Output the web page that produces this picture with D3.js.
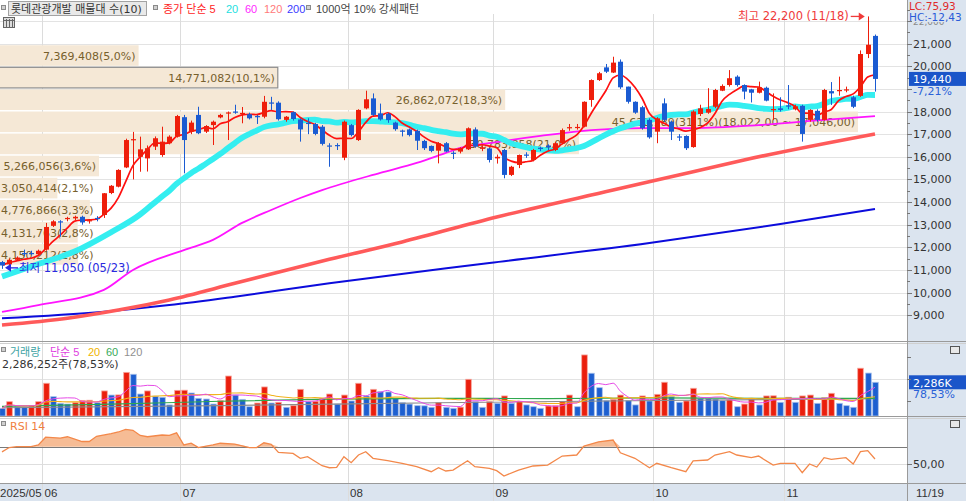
<!DOCTYPE html>
<html><head><meta charset="utf-8">
<script src="https://cdn.jsdelivr.net/npm/d3@7"></script>
<style>
body{margin:0;background:#fff;}
svg{display:block;font-family:"DejaVu Sans","Noto Sans CJK KR",sans-serif;}
</style>
</head><body>
<svg id="c" width="966" height="501"></svg>
<script>
// ---------------- DATA ----------------
const stockName = "롯데관광개발";
const openP  = [11350,11250,11450,11750,11750,11700,11900,12950,13150,13250,13280,13350,13150,13300,13430,14400,14680,15530,16750,16000,15930,16450,16080,16600,16890,17750,17110,17850,17110,17400,17740,17930,18000,17900,17880,17800,17770,18400,18390,17630,17970,17650,17500,17450,17330,16500,16520,15960,17400,16740,18140,18580,17920,17900,17510,17160,17210,17150,16700,16480,16270,16600,16180,16230,16330,17210,16350,16370,15930,16300,15200,15640,16100,15860,16400,16500,16300,16600,17280,17290,17330,18510,19390,19950,19720,20200,19100,18430,18190,17630,17110,18360,17550,16900,16920,16430,17890,17950,18210,18920,19170,19540,19170,18980,18830,19050,18080,18140,18270,18100,18250,17630,18030,17630,18900,18920,18950,18630,18690,20540,21340];
const highP  = [11400,11500,11600,11900,11850,11900,13080,13200,13200,13350,13400,13400,13250,13380,14400,14750,15450,16800,17100,16890,16500,16900,17330,16950,17850,17850,17600,18210,17400,17600,17900,18000,18300,18200,17950,17850,18690,18650,18450,17800,18000,17700,17700,17500,17400,16600,16600,17600,17450,18100,18920,18800,18350,17950,17550,17200,17250,17200,16750,16500,16650,16650,16250,16420,17300,17300,16500,16400,16100,16350,15600,16100,16200,16350,16450,16550,16650,17250,17450,17450,18450,19420,19750,20100,20420,20300,19100,18450,18250,17700,17750,18580,17600,17000,16950,18050,18300,19030,19000,19200,19830,19600,19200,19000,19320,19100,18800,18630,19170,18300,18300,18100,18100,19000,19300,19540,19100,18700,20700,22200,21400];
const lowP   = [11050,11200,11400,11600,11650,11650,11850,12900,12470,13150,13200,13000,13050,13150,13300,14350,14650,15500,15000,15340,15350,16300,16000,16550,16850,15270,17000,17000,17050,16520,17700,16740,17900,17480,17650,17450,17700,18070,17600,17550,17600,16670,17000,16950,16500,15560,16300,15850,16900,16700,18100,17800,17600,17500,17150,16900,16900,16300,16300,16200,15710,16200,15900,16150,16300,16400,16250,15750,15700,15050,15150,15500,15950,15800,16250,16300,16250,16550,17150,17200,17300,18210,19350,19700,19700,19000,18350,17900,17200,16800,16600,17550,16740,16700,16300,16400,17800,17900,18150,18900,19100,19100,18540,18400,18800,18450,17630,18000,18100,18050,16670,17550,17550,17600,18290,18700,18850,18150,18650,20360,18880];
const closeP = [11200,11450,11550,11700,11700,11850,12900,13150,13100,13300,13350,13100,13200,13250,14390,14720,15420,16740,16780,16330,16380,16820,16670,16890,17800,16740,17510,17040,17360,17550,17850,17960,17950,17940,17700,17770,18430,18360,17660,17770,17670,17210,17480,17010,16570,16480,16480,17550,16960,18070,18540,17850,17650,17620,17220,17120,16960,16710,16380,16260,16600,16230,16150,16380,17260,16450,16420,15860,16000,15200,15560,16080,16060,16300,16360,16420,16600,17180,17310,17320,18430,19390,19690,19760,20160,19070,18430,17950,17260,16860,17700,17630,17110,16860,16380,18000,18140,18110,18950,19130,19470,19170,18880,18830,19070,18480,18110,18070,18240,18230,17010,18070,17630,18950,18800,18950,18980,18210,20540,20950,19440];
// volume in thousand shares
const volumeK = [520,970,630,620,700,970,2220,1310,860,810,900,1060,1070,900,1700,1420,1430,2960,2830,1490,1700,1340,1270,750,1740,1750,1560,1200,1150,810,1040,2710,1420,1130,630,880,1970,880,930,590,700,1810,970,1000,1200,1490,810,1420,1020,2220,1360,1810,1650,1630,1200,900,810,700,690,590,900,590,520,600,2490,970,590,970,860,1360,860,970,750,630,520,680,700,970,1420,630,4140,2900,1920,1040,1130,1420,1040,750,1360,1020,1470,2290,1310,930,1020,1880,1200,1180,1150,1040,1090,630,810,1150,750,1360,1370,930,1270,930,1360,1420,860,1240,1540,860,700,590,3240,2911,2286];
const lastVolume = 2286252;
const lastVolumePct = "78,53";
const lastChangePct = "-7,21";
const LC = "75,93", HC = "-12,43";

// moving averages (need history before the window): [index, value]
const ma20Early = [[0,10710],[5,11260],[10,11820],[15,12670]];
const ma60Pts  = [[0,9150],[5,9450],[14,10120],[18,11000],[25,11880],[29,12330],[33,13080],[37,13650],[41,14180],[44,14530],[52,15290],[57,15730],[61,16170],[63,16390],[68,16650],[74,16920],[81,17180],[88,17270],[95,17270],[104,17400],[113,17630],[120,17800]];
const ma120Pts = [[0,8570],[9,8870],[16,9230],[23,9680],[32,10410],[45,11470],[55,12240],[68,13340],[84,14530],[95,15340],[102,15860],[120,17010]];
const ma200Pts = [[0,8870],[14,9160],[23,9450],[32,9820],[45,10410],[67,11310],[89,12190],[107,13030],[120,13690]];
const vma60Pts  = [[0,650],[15,800],[30,1000],[45,1150],[60,1200],[75,1180],[90,1230],[105,1200],[120,1200]];
const vma120Pts = [[0,560],[30,700],[60,900],[90,1050],[120,1180]];
const rsiPts = [[0,64],[1,69],[2,70],[4,70],[5,72],[6,81],[8,80],[9,81.5],[11,76],[12,76],[13,82],[15,85],[16,87],[17,90],[18,89],[19,83],[20,81.5],[22,83.5],[23,83],[24,86],[25,72],[26,74],[27,69],[29,72],[30,74],[32,73],[34,69],[35,69],[36,74.5],[37,72.7],[38,63.5],[40,62.3],[41,56.6],[42,58.4],[44,48],[45,45.7],[46,46.2],[47,58.4],[48,51.5],[49,60.4],[50,64.2],[51,56.6],[53,53.8],[55,50.8],[57,46.9],[59,41.1],[60,45.7],[61,41.9],[62,43],[64,53.8],[65,46.9],[67,45],[68,42.3],[69,36.1],[71,43],[73,47.7],[75,48.8],[77,59.2],[79,60.4],[80,70.8],[82,75.7],[84,77.7],[85,63],[87,56.6],[89,45.7],[90,50.8],[92,45.7],[94,41.1],[95,53.5],[97,54.6],[98,60.4],[100,64.2],[101,60.4],[103,57.3],[104,59.2],[106,48.8],[107,50.8],[109,50.8],[110,40],[111,50],[112,46.5],[113,57.3],[114,55.4],[116,57.3],[117,50],[118,64.2],[119,65.4],[120,55.8]];

// volume profile (매물대): price edges (top->bottom), volumes, percent labels
const bandEdges = [20950,19974,18998,18022,17046,16070,15094,14118,13142,12166,11190];
const bandVolumes = [7369408,14771082,26862072,45622189,30783858,5266056,3050414,4776866,4131763,4150212];
const bandPct = ["5,0","10,1","18,3","31,1","21,0","3,6","2,1","3,3","2,8","2,8"];

const monthIdx = [6,25,48,68,90,108];
const monthLabels = ["06","07","08","09","10","11"];
const firstLabel = "2025/05", lastLabel = "11/19";
const priceTicks = [9000,10000,11000,12000,13000,14000,15000,16000,17000,18000,20000,21000,22000];
const highDate = "11/18", lowDate = "05/23";

// ---------------- DRAW ----------------
const RED="#ee1e0b", BLUE="#1a5bd2", PR=907;
const NARROW='"Liberation Sans","Noto Sans CJK KR",sans-serif';
const svg=d3.select("#c");
const n=closeP.length;
const x=d3.scaleBand().domain(d3.range(n)).range([-1.64,-1.64+n*7.275]);
const cx=i=>x(i)+x.bandwidth()/2;
const y=d3.scaleLinear().domain([11000,21000]).range([270,43.6]);
const yv=d3.scaleLinear().domain([0,4950]).range([416,343]);
const yr=d3.scaleLinear().domain([50,70]).range([464,446.7]);
const fmt=d3.format(",");

const defs=svg.append("defs");
defs.append("clipPath").attr("id","cp").append("rect").attr("x",0).attr("y",0).attr("width",PR).attr("height",341);
defs.append("clipPath").attr("id","cv").append("rect").attr("x",0).attr("y",343).attr("width",PR).attr("height",73.5);
defs.append("clipPath").attr("id","cr").append("rect").attr("x",0).attr("y",418).attr("width",PR).attr("height",65);
defs.append("clipPath").attr("id","ct").append("rect").attr("x",PR).attr("y",22).attr("width",60).attr("height",400);

// backgrounds
svg.append("rect").attr("x",0).attr("y",0).attr("width",966).attr("height",501).attr("fill","#fff");
svg.append("rect").attr("x",PR).attr("y",0).attr("width",966-PR).attr("height",501).attr("fill","#dbe4ef");
svg.append("rect").attr("x",0).attr("y",484).attr("width",PR).attr("height",17).attr("fill","#dbe4ef");

// grids
const grid=svg.append("g");
grid.selectAll(".hp").data(d3.range(9000,23000,1000)).join("line")
  .attr("x1",0).attr("x2",PR).attr("y1",d=>Math.round(y(d))+0.5).attr("y2",d=>Math.round(y(d))+0.5)
  .attr("stroke","#e3e3e3");
grid.append("line").attr("x1",0).attr("x2",PR).attr("y1",Math.round(yv(2500))+0.5).attr("y2",Math.round(yv(2500))+0.5).attr("stroke","#e3e3e3");
grid.append("line").attr("x1",0).attr("x2",PR).attr("y1",464.5).attr("y2",464.5).attr("stroke","#dedede");
grid.selectAll(".vm").data(monthIdx).join("line")
  .attr("x1",d=>Math.round(x(d))+0.5).attr("x2",d=>Math.round(x(d))+0.5).attr("y1",14).attr("y2",501)
  .attr("stroke","#dcdcdc");

// ---- price pane
const price=svg.append("g").attr("clip-path","url(#cp)");
const maxBand=d3.max(bandVolumes);
const bw=d3.scaleLinear().domain([0,maxBand]).range([0,858]);
const curIdx=bandEdges.findIndex((e,i)=>i<bandVolumes.length && closeP[n-1]<=e && closeP[n-1]>bandEdges[i+1]);
const bands=price.append("g");
bandVolumes.forEach((v,i)=>{
  const y0=y(bandEdges[i]), y1=y(bandEdges[i+1]);
  bands.append("rect").attr("x",-1).attr("y",y0+0.5).attr("width",bw(v)+1).attr("height",y1-y0-1.5)
    .attr("fill","#f5e8d6")
    .attr("stroke",i===curIdx?"#8e8e8e":"none").attr("stroke-width",1.2);
});
bandVolumes.forEach((v,i)=>{
  const y0=y(bandEdges[i]), y1=y(bandEdges[i+1]);
  let s=fmt(v)+"("+bandPct[i]+"%)";
  if(v===maxBand) s+="("+fmt(bandEdges[i])+",00 ~ "+fmt(bandEdges[i+1])+",00)";
  const t=bands.append("text").text(s).attr("y",(y0+y1)/2+4).attr("font-size",11).attr("fill","#77602c");
  const w=t.node().getComputedTextLength();
  t.attr("x",Math.max(1,bw(v)-3-w));
});

// MAs
const lineGen=d3.line().x(d=>cx(d[0])).y(d=>y(d[1])).curve(d3.curveMonotoneX);
const ma=(arr,k,i)=>{const s=arr.slice(Math.max(0,i-k+1),i+1);return d3.mean(s);};
const ma5=d3.range(n).map(i=>[i,ma(closeP,5,i)]);
const ma20=ma20Early.concat(d3.range(19,n).map(i=>[i,ma(closeP,20,i)]));
price.append("path").attr("d",lineGen(ma200Pts)).attr("fill","none").attr("stroke","#0c0cdc").attr("stroke-width",2);
price.append("path").attr("d",lineGen(ma120Pts)).attr("fill","none").attr("stroke","#ff5a5a").attr("stroke-width",3.6);
price.append("path").attr("d",lineGen(ma60Pts)).attr("fill","none").attr("stroke","#ff14ff").attr("stroke-width",1.8);
price.append("path").attr("d",lineGen(ma20)).attr("fill","none").attr("stroke","#34eef0").attr("stroke-width",5.8);
price.append("path").attr("d",lineGen(ma5)).attr("fill","none").attr("stroke","#ff1010").attr("stroke-width",1.7);

// candles
const cg=price.append("g");
const idx=d3.range(n);
cg.selectAll(".w").data(idx).join("line")
  .attr("x1",i=>Math.round(cx(i))+0.5).attr("x2",i=>Math.round(cx(i))+0.5)
  .attr("y1",i=>y(highP[i])).attr("y2",i=>y(lowP[i]))
  .attr("stroke",i=>closeP[i]>=openP[i]?RED:BLUE).attr("stroke-width",1);
cg.selectAll(".b").data(idx).join("rect")
  .attr("x",i=>Math.round(cx(i))-2).attr("width",5)
  .attr("y",i=>y(Math.max(openP[i],closeP[i])))
  .attr("height",i=>Math.max(1.2,y(Math.min(openP[i],closeP[i]))-y(Math.max(openP[i],closeP[i]))))
  .attr("fill",i=>closeP[i]>=openP[i]?RED:BLUE);

// annotations high / low
const iHi=d3.maxIndex(highP), iLo=d3.minIndex(lowP);
const ann=svg.append("g").attr("font-size",11.5);
const hy=y(highP[iHi]);
ann.append("text").attr("x",cx(iHi)-19).attr("y",hy+4).attr("text-anchor","end").attr("fill","#f03a3a")
  .text("최고 "+fmt(highP[iHi])+" ("+highDate+")");
ann.append("line").attr("x1",cx(iHi)-17).attr("x2",cx(iHi)-8).attr("y1",hy).attr("y2",hy).attr("stroke","#f03a3a").attr("stroke-width",1.3);
ann.append("path").attr("d",`M${cx(iHi)-9},${hy-4}L${cx(iHi)-3},${hy}L${cx(iHi)-9},${hy+4}Z`).attr("fill","#f03a3a");
const ly=y(lowP[iLo])-1;
ann.append("path").attr("d",`M${cx(iLo)+3},${ly}L${cx(iLo)+9},${ly-4}L${cx(iLo)+9},${ly+4}Z`).attr("fill","#2a2ae0");
ann.append("line").attr("x1",cx(iLo)+8).attr("x2",cx(iLo)+16).attr("y1",ly).attr("y2",ly).attr("stroke","#2a2ae0").attr("stroke-width",1.3);
ann.append("text").attr("x",cx(iLo)+17).attr("y",ly+4).attr("fill","#2a2ae0")
  .text("최저 "+fmt(lowP[iLo])+" ("+lowDate+")");

// ---- volume pane
const vol=svg.append("g").attr("clip-path","url(#cv)");
const vUp=i=>i===0?closeP[0]>=openP[0]:volumeK[i]>=volumeK[i-1];
vol.selectAll(".vb").data(idx).join("rect")
  .attr("x",i=>Math.round(cx(i))-2.3).attr("width",5.6)
  .attr("y",i=>yv(volumeK[i])).attr("height",i=>416-yv(volumeK[i]))
  .attr("fill",i=>vUp(i)?"#ea1f0d":"#1d5fd0")
  .attr("stroke",i=>vUp(i)?"#f7a69d":"#a9c0ea").attr("stroke-width",0.8);
const vline=d3.line().x(d=>cx(d[0])).y(d=>yv(d[1])).curve(d3.curveMonotoneX);
vol.append("path").attr("d",vline(vma120Pts)).attr("fill","none").attr("stroke","#8c8c8c").attr("stroke-width",1.2);
vol.append("path").attr("d",vline(vma60Pts)).attr("fill","none").attr("stroke","#2fa84f").attr("stroke-width",1.2);
vol.append("path").attr("d",vline(d3.range(n).map(i=>[i,ma(volumeK,20,i)]))).attr("fill","none").attr("stroke","#f2b21b").attr("stroke-width",1.1);
vol.append("path").attr("d",vline(d3.range(n).map(i=>[i,ma(volumeK,5,i)]))).attr("fill","none").attr("stroke","#e64ce6").attr("stroke-width",1);

// ---- RSI pane
const rsi=svg.append("g").attr("clip-path","url(#cr)");
rsi.append("path").datum(rsiPts)
  .attr("d",d3.area().x(d=>cx(d[0])).y0(yr(70)).y1(d=>yr(Math.max(70,d[1]))))
  .attr("fill","#f6bc95");
rsi.append("line").attr("x1",0).attr("x2",PR).attr("y1",Math.round(yr(70))+0.5).attr("y2",Math.round(yr(70))+0.5).attr("stroke","#7a7a7a");
rsi.append("path").datum(rsiPts).attr("d",d3.line().x(d=>cx(d[0])).y(d=>yr(d[1])))
  .attr("fill","none").attr("stroke","#f3884a").attr("stroke-width",1.3);

// ---- separators
const sep=svg.append("g").attr("stroke","#9a9a9a");
[341.5,343.5,416.5,418.5,483.5].forEach(v=>sep.append("line").attr("x1",0).attr("x2",966).attr("y1",v).attr("y2",v).attr("stroke",(v===343.5||v===418.5)?"#cfcfcf":"#9a9a9a"));
sep.append("line").attr("x1",PR+0.5).attr("x2",PR+0.5).attr("y1",0).attr("y2",501);

// ---- legends
const lg=svg.append("g").attr("font-size",11);
const sq=(g,x0,y0)=>g.append("rect").attr("x",x0+0.5).attr("y",y0+0.5).attr("width",4).attr("height",4).attr("fill","#d0d0d0").attr("stroke","#8a8a8a");
sq(lg,1,5);
lg.append("rect").attr("x",8.5).attr("y",1.5).attr("width",138).attr("height",14).attr("fill","#e9e9e9").attr("stroke","#a3a3a3");
lg.append("text").attr("x",11).attr("y",12.5).attr("fill","#333").text(stockName+" 매물대 수(10)");
sq(lg,153,5);
[["종가 단순 5",163,"#ff2424"],["20",226,"#22e0e0"],["60",245,"#ff28ff"],["120",264,"#ff7a7a"],["200",287,"#3a3aff"]]
  .forEach(d=>lg.append("text").attr("x",d[1]).attr("y",12.5).attr("fill",d[2]).style("font-family",NARROW).text(d[0]));
sq(lg,306,5);
lg.append("text").attr("x",316).attr("y",12.5).attr("fill","#444").style("font-family",NARROW).text("1000억 10% 강세패턴");
// table icon
const ic=lg.append("g");
ic.append("rect").attr("x",3.5).attr("y",17.5).attr("width",11).attr("height",10).attr("fill","#ddd").attr("stroke","#666");
[6.5,9.5,12.5].forEach(v=>ic.append("line").attr("x1",v).attr("x2",v).attr("y1",19).attr("y2",27).attr("stroke","#666"));
ic.append("line").attr("x1",4).attr("x2",14).attr("y1",20.5).attr("y2",20.5).attr("stroke","#666");

sq(lg,1,347);
[["거래량",10,"#3ea3a3"],["단순 5",50,"#e040e0"],["20",88,"#f0b400"],["60",106,"#3aaa5a"],["120",124,"#909090"]]
  .forEach(d=>lg.append("text").attr("x",d[1]).attr("y",356).attr("fill",d[2]).style("font-family",NARROW).text(d[0]));
lg.append("text").attr("x",2).attr("y",368).attr("fill","#333").text(fmt(lastVolume)+"주("+lastVolumePct+"%)");
sq(lg,1,421);
lg.append("text").attr("x",10).attr("y",430).attr("fill","#f08040").text("RSI 14");

// ---- right axis
const ax=svg.append("g").attr("font-size",11).attr("fill","#333");
ax.selectAll(".mt").data(d3.range(9000,22600,500)).join("line")
  .attr("x1",PR).attr("x2",d=>d%1000===0?PR+5:PR+3).attr("y1",d=>Math.round(y(d))+0.5).attr("y2",d=>Math.round(y(d))+0.5).attr("stroke","#777");
// tick labels (the top one is partly covered by the LC/HC readout, as in the source)
ax.append("g").attr("clip-path","url(#ct)").selectAll(".pl").data(priceTicks).join("text")
  .attr("x",913).attr("y",d=>y(d)+4).attr("font-size",d=>d===22000?9:11).attr("fill",d=>d===22000?"#8a8a8a":"#333").text(d=>fmt(d));
ax.append("text").attr("x",909).attr("y",10).attr("font-size",10.5).attr("fill","#e02a2a").text("LC:"+LC);
ax.append("text").attr("x",909).attr("y",20.5).attr("font-size",10.5).attr("fill","#2a5ad8").text("HC:"+HC);
const yl=y(closeP[n-1]);
ax.append("rect").attr("x",909).attr("y",yl-7).attr("width",57).attr("height",14).attr("fill","#1b55c9");
ax.append("text").attr("x",913).attr("y",yl+4.5).attr("fill","#fff").text(fmt(closeP[n-1]));
ax.append("text").attr("x",913).attr("y",yl+16).attr("fill","#2a62d8").text(lastChangePct+"%");
const yvl=yv(volumeK[n-1]);
ax.append("rect").attr("x",909).attr("y",yvl-7).attr("width",57).attr("height",14).attr("fill","#1b55c9");
ax.append("text").attr("x",913).attr("y",yvl+4.5).attr("fill","#fff").text(fmt(Math.round(lastVolume/1000))+"K");
ax.append("text").attr("x",913).attr("y",yvl+16).attr("fill","#2a62d8").text(lastVolumePct+"%");
[1000,2500,4000].forEach(v=>ax.append("line").attr("x1",PR).attr("x2",PR+4).attr("y1",Math.round(yv(v))+0.5).attr("y2",Math.round(yv(v))+0.5).attr("stroke","#777"));
ax.append("line").attr("x1",PR).attr("x2",PR+5).attr("y1",464.5).attr("y2",464.5).attr("stroke","#777");
ax.append("text").attr("x",913).attr("y",468).text("50,00");
[346,420].forEach(v=>{ax.append("rect").attr("x",950.5).attr("y",v+0.5).attr("width",9).attr("height",7).attr("fill","#e8e8e8").attr("stroke","#555");});

// ---- x axis
const xa=svg.append("g").attr("font-size",11.5).attr("fill","#333").style("font-family",NARROW);
xa.append("text").attr("x",0).attr("y",497).text(firstLabel);
xa.selectAll(".ml").data(monthIdx).join("text").attr("x",(d,i)=>x(d)+2.5).attr("y",497).text((d,i)=>monthLabels[i]);
xa.append("text").attr("x",916).attr("y",497).text(lastLabel);
</script>
</body></html>
